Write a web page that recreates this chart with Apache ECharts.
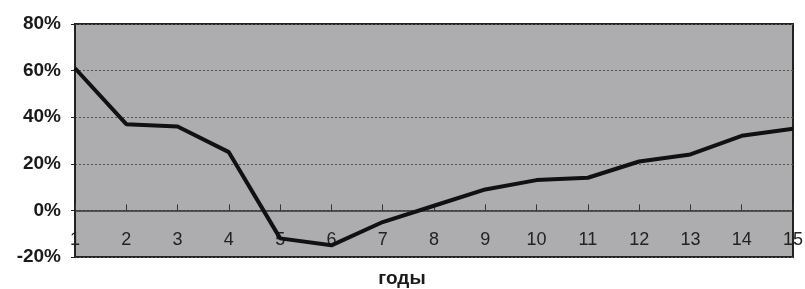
<!DOCTYPE html>
<html>
<head>
    <meta charset="utf-8">
    <title>ECharts</title>
    <script src="https://cdn.jsdelivr.net/npm/echarts@6/dist/echarts.min.js"></script>
</head>
<body style="margin:0;background:#fff;">
<div id="main" style="width: 805px;height:289px;"></div>
<script type="text/javascript">
    // годы
    var years = ['1', '2', '3', '4', '5', '6', '7', '8', '9', '10', '11', '12', '13', '14', '15'];
    // значения, %
    var values = [61, 37, 36, 25, -12, -15, -5, 2, 9, 13, 14, 21, 24, 32, 35];
    var yTicks = [-20, 0, 20, 40, 60, 80];

    var myChart = echarts.init(document.getElementById('main'));
    var option = {
        animation: false,
        grid: {
            left: 75,
            right: 12,
            top: 24,
            bottom: 32,
            outerBoundsMode: 'none',
            containLabel: false,
            show: true,
            backgroundColor: '#adadb0',
            borderColor: '#222',
            borderWidth: 2
        },
        xAxis: [{
            // подписи лет внутри области, у нижней границы
            type: 'category',
            data: years,
            boundaryGap: false,
            position: 'bottom',
            axisLine: {show: false, onZero: false},
            axisTick: {show: false},
            axisLabel: {
                inside: true,
                margin: 8,
                color: '#222',
                fontFamily: 'Liberation Sans, Arial',
                fontSize: 18
            },
            splitLine: {show: false}
        }, {
            // линия 0% с засечками
            type: 'category',
            data: years,
            boundaryGap: false,
            position: 'bottom',
            axisLine: {show: true, onZero: true, lineStyle: {color: '#333', width: 1.5}},
            axisTick: {show: true, inside: true, length: 6, lineStyle: {color: '#333'}},
            axisLabel: {show: false},
            splitLine: {show: false}
        }],
        yAxis: {
            type: 'value',
            min: yTicks[0],
            max: yTicks[yTicks.length - 1],
            interval: 20,
            axisLine: {show: true, lineStyle: {color: '#222', width: 2}},
            axisTick: {show: true, length: 4, lineStyle: {color: '#222'}},
            axisLabel: {
                formatter: '{value}%',
                margin: 14,
                color: '#1a1a1a',
                fontFamily: 'Liberation Sans, Arial',
                fontWeight: 'bold',
                fontSize: 19
            },
            splitLine: {
                show: true,
                lineStyle: {color: '#555', type: [2, 2], width: 1}
            }
        },
        graphic: [{
            type: 'text',
            x: 402,
            y: 279,
            style: {
                text: 'годы',
                fill: '#1a1a1a',
                align: 'center',
                verticalAlign: 'middle',
                font: 'bold 19px "Liberation Sans", Arial'
            }
        }],
        series: [{
            name: 'values',
            type: 'line',
            xAxisIndex: 0,
            data: values,
            showSymbol: false,
            lineStyle: {color: '#111', width: 4},
            z: 5
        }]
    };
    myChart.setOption(option);
</script>
</body>
</html>
